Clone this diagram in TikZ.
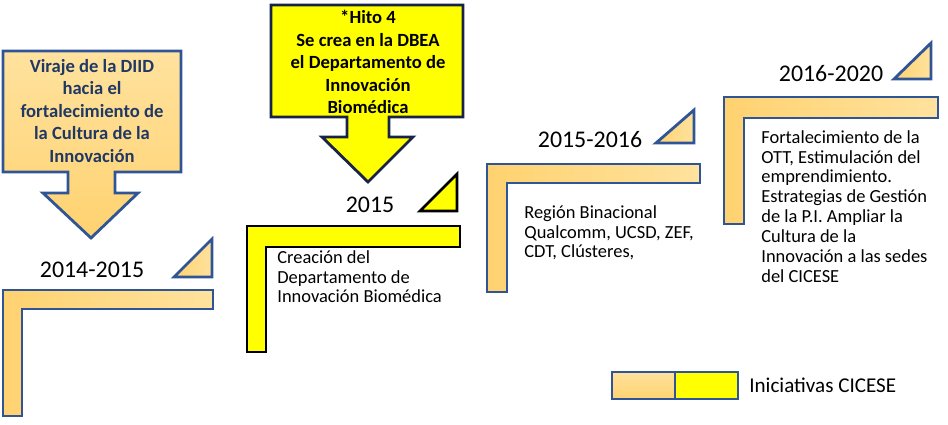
\documentclass[tikz,border=0pt]{standalone}
\usepackage{fontspec}
\setmainfont{Carlito}
\usetikzlibrary{positioning}

\definecolor{ribbonblue}{RGB}{47,85,151}
\definecolor{ambarlo}{RGB}{255,210,112}
\definecolor{ambarhi}{RGB}{255,226,158}
\definecolor{hitoyellow}{RGB}{255,255,0}
\definecolor{navytext}{RGB}{31,56,100}
\definecolor{hitoedge}{RGB}{25,35,70}

\begin{document}
\begin{tikzpicture}[
  x=0.02cm, y=-0.02cm,
  orangeband/.style={draw=ribbonblue,line width=1.6pt,
                     left color=ambarlo,right color=ambarhi},
  yellowband/.style={draw=black,line width=1.6pt,fill=hitoyellow},
  orangecall/.style={draw=ribbonblue,line width=1.6pt,
                     top color=ambarhi,bottom color=ambarlo},
  yellowcall/.style={draw=hitoedge,line width=1.6pt,fill=hitoyellow},
  yearlabel/.style={font=\fontsize{13.6}{16}\selectfont,inner sep=0pt,anchor=base},
  bodytext/.style={font=\fontsize{10.5}{11.3}\selectfont,align=left,
                   inner sep=0pt,anchor=north west},
  calltext/.style={font=\bfseries\fontsize{10.6}{12.8}\selectfont,
                   align=center,inner sep=0pt}
]
\useasboundingbox (0,0) rectangle (948,424);

% callout arrows
\draw[orangecall] (3,51)--(181,51)--(181,172)--(115,172)--(115,193)--(138,193)
  --(91,238)--(43,193)--(68,193)--(68,172)--(3,172)--cycle;
\node[calltext,text=navytext] (viraje) at (92,111)
  {Viraje de la DIID\\hacia el\\fortalecimiento de\\la Cultura de la\\Innovación};

\draw[yellowcall] (271,5)--(463,5)--(463,117)--(389,117)--(389,137)--(413,137)
  --(368,182)--(322,137)--(347,137)--(347,117)--(271,117)--cycle;
\node[calltext] (hito) at (368,62)
  {*Hito 4\\Se crea en la DBEA\\el Departamento de\\Innovación\\Biomédica};

% period 2014-2015
\draw[orangeband] (3,290)--(213,290)--(213,309)--(22,309)--(22,416)--(3,416)--cycle;
\draw[orangeband] (174,277)--(212,277)--(212,239)--cycle;
\node[yearlabel] (y14) at (92,277) {2014-2015};

% period 2015
\draw[yellowband] (247,226)--(460,226)--(460,247)--(266,247)--(266,352)--(247,352)--cycle;
\draw[yellowband] (420,211)--(457,211)--(457,174)--cycle;
\node[yearlabel] (y15) at (370,212) {2015};
\node[bodytext] (creacion) at (277,250)
  {Creación del\\Departamento de\\Innovación Biomédica};

% period 2015-2016
\draw[orangeband] (487,164)--(700,164)--(700,183)--(507,183)--(507,292)--(487,292)--cycle;
\draw[orangeband] (656,143)--(694,143)--(694,110)--cycle;
\node[yearlabel] (y1516) at (590,147) {2015-2016};
\node[bodytext] (region) at (524,205)
  {Región Binacional\\Qualcomm, UCSD, ZEF,\\CDT, Clústeres,};

% period 2016-2020
\draw[orangeband] (724,97)--(938,97)--(938,118)--(744,118)--(744,224)--(724,224)--cycle;
\draw[orangeband] (894,79)--(931,79)--(931,43)--cycle;
\node[yearlabel] (y1620) at (831,81) {2016-2020};
\node[bodytext] (ott) at (761,130)
  {Fortalecimiento de la\\OTT, Estimulación del\\emprendimiento.\\Estrategias de Gestión\\de la P.I. Ampliar la\\Cultura de la\\Innovación a las sedes\\del CICESE};

% legend
\draw[orangecall] (612,372) rectangle (675,399);
\draw[draw=ribbonblue,line width=1.6pt,fill=hitoyellow] (675,372) rectangle (738,399);
\node[font=\fontsize{12}{14}\selectfont,inner sep=0pt,anchor=west] (leyenda) at (749,385)
  {Iniciativas CICESE};
\end{tikzpicture}
\end{document}
